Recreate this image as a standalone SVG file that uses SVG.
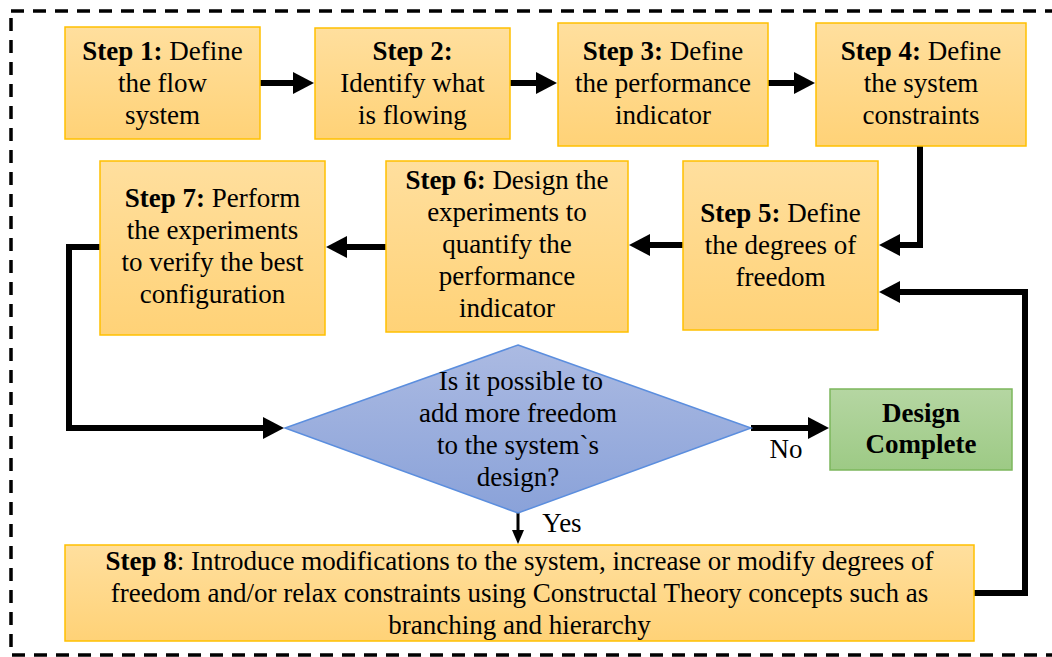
<svg xmlns="http://www.w3.org/2000/svg" width="1052" height="657" viewBox="0 0 1052 657">
<defs>
<linearGradient id="gOr" x1="0" y1="0" x2="0" y2="1"><stop offset="0" stop-color="#ffdf9e"/><stop offset="1" stop-color="#ffd277"/></linearGradient>
<linearGradient id="gGr" x1="0" y1="0" x2="0" y2="1"><stop offset="0" stop-color="#b5d6a2"/><stop offset="1" stop-color="#9dca85"/></linearGradient>
<linearGradient id="gBl" x1="0" y1="0" x2="0" y2="1"><stop offset="0" stop-color="#abbae2"/><stop offset="1" stop-color="#8aa2d9"/></linearGradient>
<marker id="ah" markerUnits="userSpaceOnUse" markerWidth="21" markerHeight="22" viewBox="0 0 21 22" refX="1" refY="11" orient="auto"><polygon points="0,0 21,11 0,22" fill="#000"/></marker>
<marker id="ahs" markerUnits="userSpaceOnUse" markerWidth="14" markerHeight="12" viewBox="0 0 14 12" refX="1" refY="6" orient="auto"><polygon points="0,0 14,6 0,12" fill="#000"/></marker>
</defs>
<style>
.box{fill:url(#gOr);stroke:#ffc000;stroke-width:1.5}
.grn{fill:url(#gGr);stroke:#7cb75c;stroke-width:1.5}
.dia{fill:url(#gBl);stroke:#5b8ede;stroke-width:1.5}
text{font-size:27px;fill:#000;text-anchor:middle}
.b{font-weight:bold}
.c{fill:none;stroke:#000;stroke-width:6;stroke-linejoin:miter}
.t{fill:none;stroke:#000;stroke-width:3}
.frame{fill:none;stroke:#000;stroke-width:3.5;stroke-dasharray:13 9}
</style>
<rect width="1052" height="657" fill="#fff"/>
<rect class="frame" x="11" y="11" width="1060" height="644"/>
<g id="connectors">
<path class="c" d="M260,83 H294" marker-end="url(#ah)"/>
<path class="c" d="M510,83 H537" marker-end="url(#ah)"/>
<path class="c" d="M768,83 H795" marker-end="url(#ah)"/>
<path class="c" d="M920,146 V245 H899" marker-end="url(#ah)"/>
<path class="c" d="M683,245 H649" marker-end="url(#ah)"/>
<path class="c" d="M386,247 H346" marker-end="url(#ah)"/>
<path class="c" d="M100,247 H69 V428 H264" marker-end="url(#ah)"/>
<path class="c" d="M751,428 H809" marker-end="url(#ah)"/>
<path class="t" d="M518,513 V531" marker-end="url(#ahs)"/>
<path class="c" d="M974,593 H1025 V292 H899" marker-end="url(#ah)"/>
</g>
<g font-family="'Liberation Serif', 'DejaVu Serif', serif">
<g id="step1"><rect class="box" x="65" y="27" width="195" height="112"/>
<text x="162.5" y="60"><tspan class="b">Step 1:</tspan> Define</text><text x="162.5" y="92">the flow</text><text x="162.5" y="124">system</text></g>
<g id="step2"><rect class="box" x="315" y="28" width="195" height="111"/>
<text x="412.5" y="60" class="b">Step 2:</text><text x="412.5" y="92">Identify what</text><text x="412.5" y="124">is flowing</text></g>
<g id="step3"><rect class="box" x="558" y="23" width="210" height="123"/>
<text x="663" y="60"><tspan class="b">Step 3:</tspan> Define</text><text x="663" y="92">the performance</text><text x="663" y="124">indicator</text></g>
<g id="step4"><rect class="box" x="816" y="23" width="210" height="123"/>
<text x="921" y="60"><tspan class="b">Step 4:</tspan> Define</text><text x="921" y="92">the system</text><text x="921" y="124">constraints</text></g>
<g id="step5"><rect class="box" x="683" y="161" width="195" height="169"/>
<text x="780.5" y="222"><tspan class="b">Step 5:</tspan> Define</text><text x="780.5" y="254">the degrees of</text><text x="780.5" y="286">freedom</text></g>
<g id="step6"><rect class="box" x="386" y="161" width="242" height="171"/>
<text x="507" y="189"><tspan class="b">Step 6:</tspan> Design the</text><text x="507" y="221">experiments to</text><text x="507" y="253">quantify the</text><text x="507" y="285">performance</text><text x="507" y="317">indicator</text></g>
<g id="step7"><rect class="box" x="100" y="161" width="225" height="174"/>
<text x="212.5" y="207"><tspan class="b">Step 7:</tspan> Perform</text><text x="212.5" y="239">the experiments</text><text x="212.5" y="271">to verify the best</text><text x="212.5" y="303">configuration</text></g>
<g id="decision"><polygon class="dia" points="518,345 751,428 518,513 285,428"/>
<text x="521" y="390">Is it possible to</text><text x="518" y="422">add more freedom</text><text x="518" y="454">to the system`s</text><text x="518" y="486">design?</text></g>
<g id="complete"><rect class="grn" x="830" y="389" width="182" height="81"/>
<text x="921" y="422" class="b">Design</text><text x="921" y="453" class="b">Complete</text></g>
<g id="step8"><rect class="box" x="65" y="545" width="909" height="96"/>
<text x="519.5" y="570"><tspan class="b">Step 8</tspan>: Introduce modifications to the system, increase or modify degrees of</text>
<text x="519.5" y="602">freedom and/or relax constraints using Constructal Theory concepts such as</text>
<text x="519.5" y="634">branching and hierarchy</text></g>
<g id="labels"><text x="786" y="458">No</text><text x="562" y="532">Yes</text></g>
</g>
</svg>
